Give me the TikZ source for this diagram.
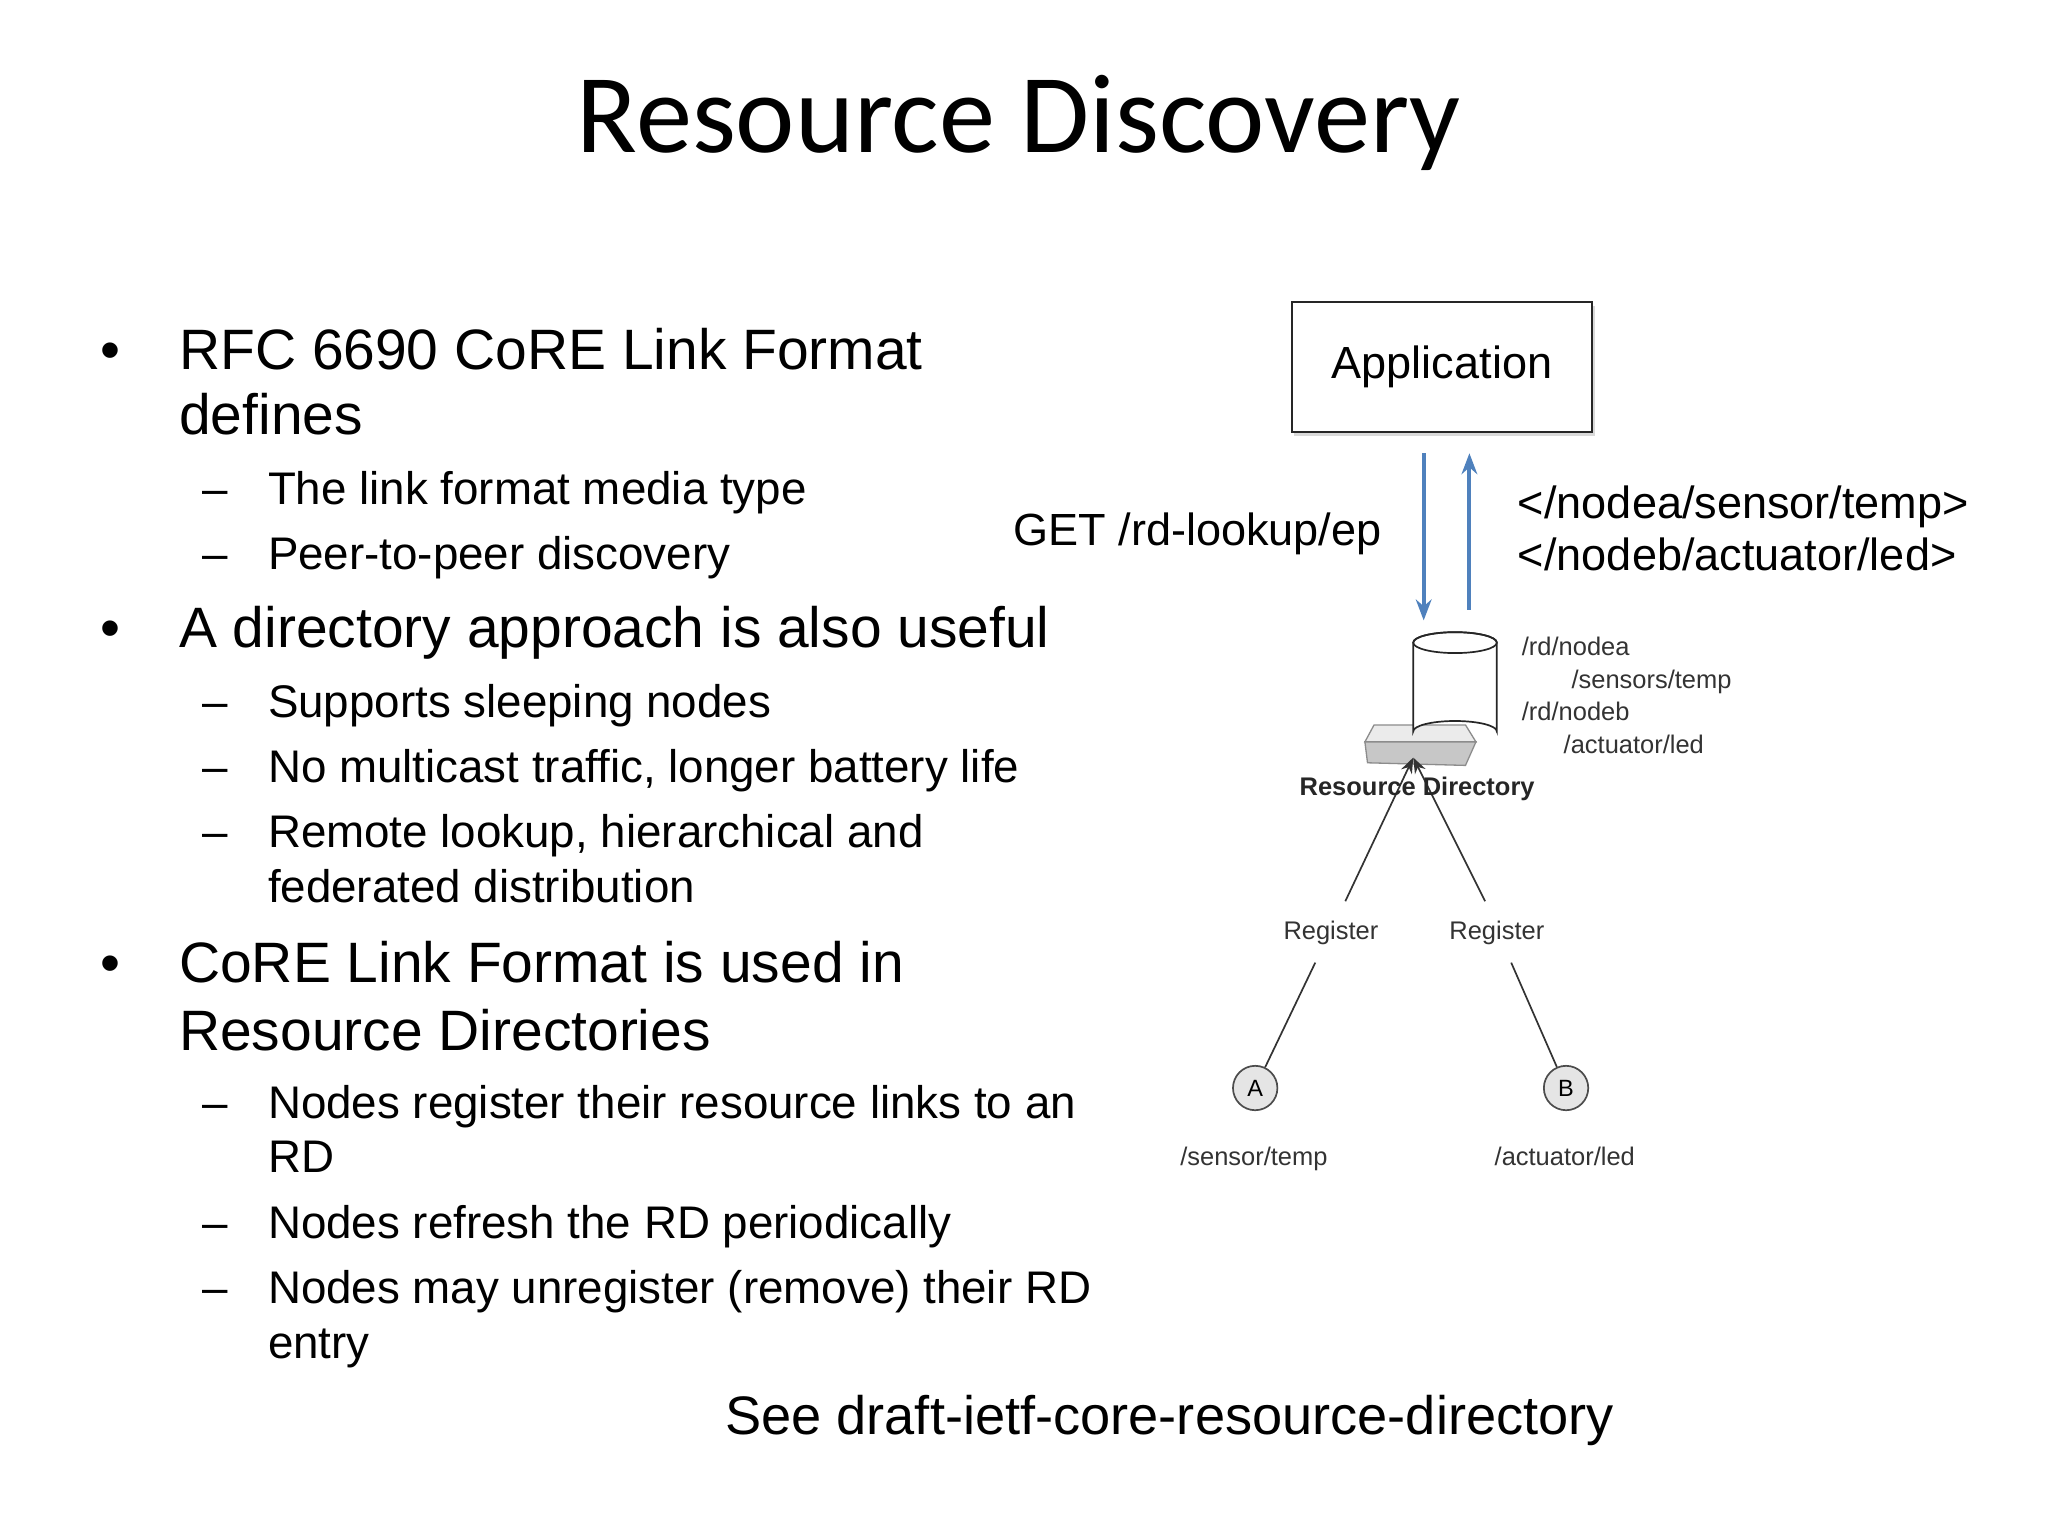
\documentclass[tikz,border=0pt]{standalone}
\usepackage{fontspec}
\setmainfont{Liberation Sans}
\newfontfamily\titlefont{Carlito}
\usetikzlibrary{arrows.meta,shapes.geometric,shadows}
\definecolor{arrblue}{RGB}{79,129,189}
\begin{document}
\begin{tikzpicture}[x=1pt,y=-1pt,
  L/.style={anchor=base west,inner sep=0pt},
  big/.style={L,font=\fontsize{43.6}{48}\selectfont},
  sub/.style={L,font=\fontsize{35}{38}\selectfont},
  sm/.style={inner sep=0pt,font=\fontsize{19.5}{22}\selectfont,text=black!80},
  arr/.style={draw=arrblue,line width=3pt,-{Stealth[length=16pt,width=12pt]}},
  blk/.style={draw=black!80,line width=1.3pt}]
\useasboundingbox (0,0) rectangle (1568,1176);
\node[anchor=base,inner sep=0pt,font=\titlefont\fontsize{86}{90}\selectfont] (title) at (780,117) {Resource Discovery};
% bullets
\foreach \y/\n in {283/b1,496/b2,752/b3} \node[big] (\n) at (77,\y) {•};
\node[big] (t1) at (137,283) {RFC 6690 CoRE Link Format};
\node[big] (t1b) at (137,333) {defines};
\node[big] (t2) at (137,496) {A directory approach is also useful};
\node[big] (t3) at (137,752) {CoRE Link Format is used in};
\node[big] (t3b) at (137,804) {Resource Directories};
\foreach \y/\n in {386/d1,436/d2,549/d3,599/d4,649/d5,856/d6,948/d7,998/d8} \node[sub] (\n) at (155,\y) {–};
\node[sub] (s1) at (205,386) {The link format media type};
\node[sub] (s2) at (205,436) {Peer-to-peer discovery};
\node[sub] (s3) at (205,549) {Supports sleeping nodes};
\node[sub] (s4) at (205,599) {No multicast traffic, longer battery life};
\node[sub] (s5) at (205,649) {Remote lookup, hierarchical and};
\node[sub] (s5b) at (205,691) {federated distribution};
\node[sub] (s6) at (205,856) {Nodes register their resource links to an};
\node[sub] (s6b) at (205,898) {RD};
\node[sub] (s7) at (205,948) {Nodes refresh the RD periodically};
\node[sub] (s8) at (205,998) {Nodes may unregister (remove) their RD};
\node[sub] (s8b) at (205,1040) {entry};
\node[L,font=\fontsize{41.5}{44}\selectfont] (see) at (555,1098) {See draft-ietf-core-resource-directory};
% diagram
\node[draw=black!85,line width=1.5pt,fill=white,minimum width=230pt,minimum height=100pt,
  drop shadow={shadow xshift=2pt,shadow yshift=-3pt,opacity=.3},font=\fontsize{34.5}{36}\selectfont] (app) at (1104,281) {Application};
\coordinate (dtop) at (1090,347); \coordinate (dbot) at (1090,475);
\coordinate (utop) at (1125,347); \coordinate (ubot) at (1125,467);
\draw[arr] (dtop) -- (dbot);
\draw[arr] (ubot) -- (utop);
\node[anchor=base east,inner sep=0pt,font=\fontsize{34.5}{36}\selectfont] (get) at (1058,418) {GET /rd-lookup/ep};
\node[L,font=\fontsize{34.5}{36}\selectfont] (r1) at (1162,397) {</nodea/sensor/temp>};
\node[L,font=\fontsize{34.5}{36}\selectfont] (r2) at (1162,437) {</nodeb/actuator/led>};
% server base
\draw[fill=black!8,draw=black!45,line width=1pt] (1045,568) -- (1052,555) -- (1122,555) -- (1130,568) -- cycle;
\draw[fill=black!22,draw=black!45,line width=1pt] (1045,568) -- (1130,568) -- (1122,586) -- (1047,584) -- cycle;
% cylinder
\draw[fill=white,draw=black!85,line width=1.3pt] (1082,492) -- (1082,560) arc[start angle=180,end angle=360,x radius=32,y radius=8] -- (1146,492) arc[start angle=0,end angle=-180,x radius=32,y radius=8] -- cycle;
\draw[draw=black!85,line width=1.3pt] (1114,492) ellipse[x radius=32,y radius=8];
\node[sm,anchor=base west] (n1) at (1165,502) {/rd/nodea};
\node[sm,anchor=base west] (n2) at (1203,527) {/sensors/temp};
\node[sm,anchor=base west] (n3) at (1165,552) {/rd/nodeb};
\node[sm,anchor=base west] (n4) at (1197,577) {/actuator/led};
\coordinate (rdpt) at (1082,580);
\coordinate (la) at (1030,690); \coordinate (lb) at (1137,690);
\draw[blk,-{Stealth[length=12pt,width=9pt]}] (la) -- (rdpt);
\draw[blk,-{Stealth[length=12pt,width=9pt]}] (lb) -- (rdpt);
\node[sm,anchor=base,font=\bfseries\fontsize{19.5}{22}\selectfont,text=black!85] (rd) at (1085,609) {Resource Directory};
\node[sm,anchor=base] (rega) at (1019,719) {Register};
\node[sm,anchor=base] (regb) at (1146,719) {Register};
\node[circle,draw=black!70,fill=black!10,line width=1.3pt,minimum size=34pt,inner sep=0pt,font=\fontsize{18}{20}\selectfont] (A) at (961,833) {A};
\node[circle,draw=black!70,fill=black!10,line width=1.3pt,minimum size=34pt,inner sep=0pt,font=\fontsize{18}{20}\selectfont] (B) at (1199,833) {B};
\coordinate (ra) at (1007,737); \coordinate (rb) at (1157,737);
\draw[blk] (ra) -- (A);
\draw[blk] (rb) -- (B);
\node[sm,anchor=base] (la1) at (960,892) {/sensor/temp};
\node[sm,anchor=base] (lb1) at (1198,892) {/actuator/led};
\end{tikzpicture}
\end{document}
